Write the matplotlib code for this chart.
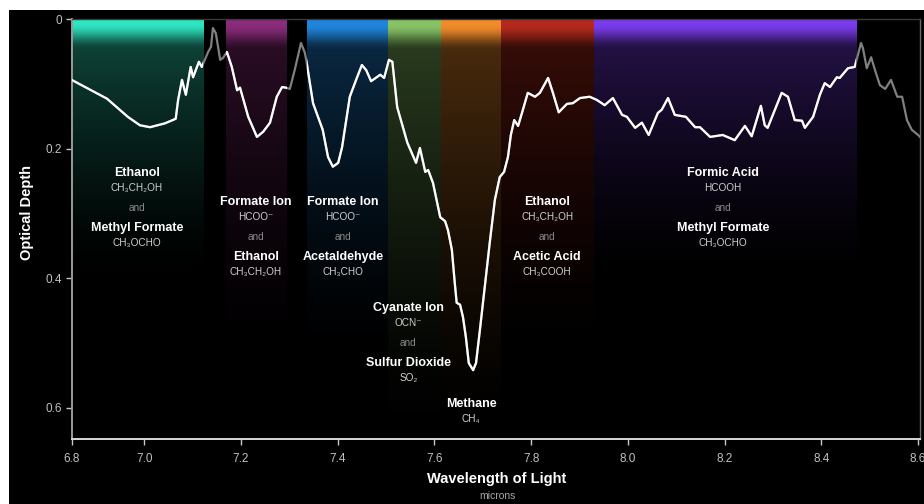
import numpy as np
import matplotlib
matplotlib.use("Agg")
import matplotlib.pyplot as plt
from matplotlib.patches import Rectangle
from matplotlib.colors import to_rgb

plt.rcParams['font.family'] = ['Liberation Sans', 'DejaVu Sans']

# transmission spectrum
wavelength = [6.850, 6.923, 6.966, 6.991, 7.012, 7.043, 7.065, 7.070, 7.078, 7.086,
              7.096, 7.101, 7.113, 7.119, 7.132, 7.138, 7.142, 7.148, 7.157, 7.163,
              7.171, 7.181, 7.192, 7.198, 7.215, 7.233, 7.246, 7.260, 7.274, 7.285,
              7.293, 7.301, 7.312, 7.324, 7.332, 7.336, 7.349, 7.369, 7.380, 7.390,
              7.401, 7.409, 7.425, 7.438, 7.450, 7.459, 7.469, 7.488, 7.496, 7.506,
              7.513, 7.523, 7.544, 7.562, 7.570, 7.581, 7.587, 7.597, 7.612, 7.622,
              7.628, 7.636, 7.642, 7.646, 7.653, 7.659, 7.665, 7.671, 7.680, 7.686,
              7.694, 7.705, 7.715, 7.725, 7.735, 7.744, 7.752, 7.758, 7.765, 7.773,
              7.783, 7.793, 7.808, 7.818, 7.835, 7.845, 7.857, 7.874, 7.886, 7.901,
              7.921, 7.936, 7.952, 7.969, 7.988, 7.998, 8.015, 8.029, 8.043, 8.062,
              8.070, 8.083, 8.097, 8.120, 8.139, 8.149, 8.170, 8.196, 8.221, 8.242,
              8.256, 8.275, 8.283, 8.289, 8.318, 8.331, 8.345, 8.360, 8.366, 8.383,
              8.397, 8.407, 8.418, 8.432, 8.438, 8.455, 8.469, 8.473, 8.482, 8.486,
              8.494, 8.503, 8.511, 8.521, 8.532, 8.544, 8.557, 8.567, 8.577, 8.587,
              8.600, 8.604]
depth = [0.094, 0.123, 0.151, 0.164, 0.167, 0.161, 0.154, 0.125, 0.094, 0.117,
         0.074, 0.090, 0.066, 0.074, 0.051, 0.043, 0.014, 0.022, 0.063, 0.060,
         0.051, 0.074, 0.110, 0.106, 0.151, 0.182, 0.174, 0.160, 0.120, 0.105,
         0.106, 0.108, 0.076, 0.037, 0.052, 0.068, 0.130, 0.171, 0.213, 0.228,
         0.222, 0.198, 0.120, 0.094, 0.071, 0.079, 0.096, 0.086, 0.091, 0.063,
         0.066, 0.136, 0.191, 0.222, 0.199, 0.236, 0.233, 0.253, 0.306, 0.312,
         0.326, 0.356, 0.407, 0.438, 0.441, 0.460, 0.491, 0.531, 0.542, 0.531,
         0.480, 0.407, 0.341, 0.279, 0.244, 0.236, 0.213, 0.179, 0.156, 0.165,
         0.140, 0.114, 0.120, 0.114, 0.091, 0.114, 0.144, 0.131, 0.130, 0.122,
         0.120, 0.125, 0.133, 0.122, 0.148, 0.151, 0.168, 0.160, 0.179, 0.145,
         0.140, 0.122, 0.148, 0.151, 0.167, 0.167, 0.182, 0.179, 0.187, 0.165,
         0.181, 0.134, 0.164, 0.168, 0.114, 0.120, 0.156, 0.157, 0.168, 0.151,
         0.117, 0.099, 0.105, 0.090, 0.091, 0.076, 0.074, 0.063, 0.037, 0.045,
         0.076, 0.059, 0.079, 0.102, 0.108, 0.094, 0.120, 0.120, 0.156, 0.171,
         0.179, 0.182]

# absorption bands
band_start = [6.8506, 7.170, 7.337, 7.503, 7.614, 7.738, 7.929]
band_end = [7.122, 7.296, 7.503, 7.614, 7.738, 7.929, 8.471]
band_colors = ['#2ee8c2', '#8b2c7c', '#1f86dc', '#88c466', '#f28c2c', '#b52a1c', '#7c3cf0']
band_bottom = [0.40, 0.52, 0.52, 0.64, 0.64, 0.52, 0.40]

# molecule labels: (center wavelength, depth of first line, lines)
label_x = [6.985, 7.231, 7.411, 7.546, 7.676, 7.833, 8.197]
label_y = [0.238, 0.282, 0.282, 0.446, 0.594, 0.282, 0.238]
label_lines = [
    ['Ethanol', 'CH₃CH₂OH', 'Methyl Formate', 'CH₃OCHO'],
    ['Formate Ion', 'HCOO⁻', 'Ethanol', 'CH₃CH₂OH'],
    ['Formate Ion', 'HCOO⁻', 'Acetaldehyde', 'CH₃CHO'],
    ['Cyanate Ion', 'OCN⁻', 'Sulfur Dioxide', 'SO₂'],
    ['Methane', 'CH₄'],
    ['Ethanol', 'CH₃CH₂OH', 'Acetic Acid', 'CH₃COOH'],
    ['Formic Acid', 'HCOOH', 'Methyl Formate', 'CH₃OCHO'],
]

x_ticks = [6.8506, 7.0, 7.2, 7.4, 7.6, 7.8, 8.0, 8.2, 8.4, 8.6]
x_ticklabels = ['6.8', '7.0', '7.2', '7.4', '7.6', '7.8', '8.0', '8.2', '8.4', '8.6']
y_ticks = [0, 0.2, 0.4, 0.6]
y_ticklabels = ['0', '0.2', '0.4', '0.6']

fig = plt.figure(figsize=(9.24, 5.04), dpi=100, facecolor='white')
fig.patches.append(Rectangle((9 / 924, 0), 1, 1 - 10 / 504, transform=fig.transFigure,
                             facecolor='black', edgecolor='none', zorder=-10))
ax = fig.add_axes([72 / 924, 1 - 439.3 / 504, 848 / 924, 420.3 / 504])
ax.set_facecolor('black')

# gradient bands
for x0, x1, c, bot in zip(band_start, band_end, band_colors, band_bottom):
    d = np.linspace(0, bot, 400)
    t = np.clip((d - 0.008) / 0.04, 0, 1)
    top = 0.67 * (1 - t * t * (3 - 2 * t))
    low = 0.33 * np.clip(1 - d / bot, 0, 1) ** 1.4
    b = top + low
    rgb = np.array(to_rgb(c))[None, :] * b[:, None]
    img = np.concatenate([rgb, np.ones((len(d), 1))], axis=1)[:, None, :]
    ax.imshow(img, extent=(x0, x1, bot, 0), origin='upper', aspect='auto',
              interpolation='bilinear', zorder=1)

# spectrum: grey outside bands, white inside
ax.plot(wavelength, depth, color='#808080', lw=1.6, zorder=3, solid_joinstyle='round')
for x0, x1 in zip(band_start, band_end):
    ln, = ax.plot(wavelength, depth, color='white', lw=1.6, zorder=4, solid_joinstyle='round')
    ln.set_clip_path(Rectangle((x0, -1), x1 - x0, 3, transform=ax.transData))

# labels
offs = [0, 0.023, 0.054, 0.085, 0.108]
for lx, ly, lines in zip(label_x, label_y, label_lines):
    if len(lines) == 4:
        items = [(lines[0], 'name'), (lines[1], 'formula'), ('and', 'and'),
                 (lines[2], 'name'), (lines[3], 'formula')]
    else:
        items = [(lines[0], 'name'), (lines[1], 'formula')]
    for (txt, kind), o in zip(items, offs):
        if kind == 'name':
            ax.text(lx, ly + o, txt, color='white', fontsize=9, fontweight='bold',
                    ha='center', va='center', zorder=5)
        elif kind == 'formula':
            ax.text(lx, ly + o, txt, color='#d0d0d0', fontsize=7.2,
                    ha='center', va='center', zorder=5)
        else:
            ax.text(lx, ly + o, txt, color='#8a8a8a', fontsize=7.2,
                    ha='center', va='center', zorder=5)

ax.set_xlim(6.8506, 8.604)
ax.set_ylim(0.6487, 0)
ax.set_xticks(x_ticks)
ax.set_xticklabels(x_ticklabels)
ax.set_yticks(y_ticks)
ax.set_yticklabels(y_ticklabels)
ax.tick_params(axis='both', colors='#c8c8c8', labelcolor='#c0c0c0', labelsize=8.5,
               length=4, width=1)
ax.tick_params(axis='x', pad=6)
ax.tick_params(axis='y', pad=3)

ax.spines['left'].set_color('#9a9a9a')
ax.spines['bottom'].set_color('#d8d8d8')
ax.spines['top'].set_color('#3a3a3a')
ax.spines['right'].set_color('#6a6a6a')
for s in ax.spines.values():
    s.set_linewidth(1)
ax.spines['left'].set_linewidth(1.4)
ax.spines['bottom'].set_linewidth(1.4)

fig.text(27 / 924, 1 - 213 / 504, 'Optical Depth', color='white', fontsize=10.5,
         fontweight='bold', rotation=90, ha='center', va='center')
fig.text(497 / 924, 1 - 479 / 504, 'Wavelength of Light', color='white', fontsize=10.5,
         fontweight='bold', ha='center', va='center')
fig.text(497 / 924, 1 - 496 / 504, 'microns', color='#a8a8a8', fontsize=7.5,
         ha='center', va='center')

fig.savefig('out.png', dpi=100, facecolor=fig.get_facecolor())
